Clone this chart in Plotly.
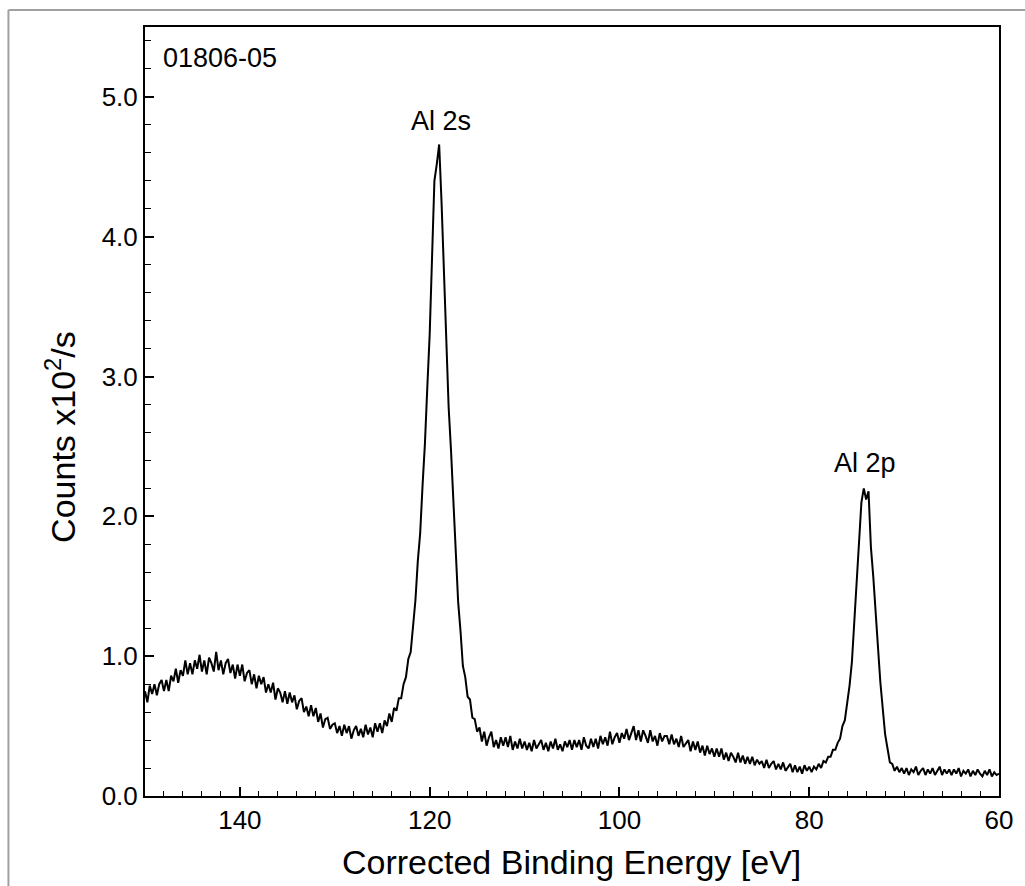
import plotly.graph_objects as go

# Energy grid (eV), 0.25 eV sampling from 150 down to 60
E_START = 150.0
E_STEP = 0.25
counts = [
    # 150.00 -> 145.25
    0.75, 0.67, 0.79, 0.73, 0.80, 0.72, 0.80, 0.83, 0.75, 0.83, 0.75, 0.86, 0.82, 0.91, 0.81, 0.90, 0.86, 0.97, 0.87, 0.95,
    # 145.00 -> 140.25
    0.87, 0.97, 0.91, 1.01, 0.89, 0.97, 0.87, 0.99, 0.95, 0.89, 1.03, 0.90, 0.97, 0.87, 0.95, 0.98, 0.88, 0.94, 0.84, 0.94,
    # 140.00 -> 135.25
    0.86, 0.94, 0.82, 0.88, 0.90, 0.80, 0.87, 0.77, 0.86, 0.80, 0.85, 0.74, 0.80, 0.74, 0.81, 0.69, 0.77, 0.74, 0.67, 0.75,
    # 135.00 -> 130.25
    0.66, 0.74, 0.67, 0.72, 0.62, 0.68, 0.70, 0.60, 0.64, 0.57, 0.65, 0.57, 0.63, 0.53, 0.59, 0.49, 0.55, 0.56, 0.48, 0.51,
    # 130.00 -> 125.25
    0.52, 0.45, 0.50, 0.43, 0.51, 0.45, 0.50, 0.41, 0.47, 0.50, 0.43, 0.48, 0.42, 0.51, 0.44, 0.49, 0.42, 0.52, 0.46, 0.52,
    # 125.00 -> 120.25
    0.45, 0.54, 0.50, 0.59, 0.53, 0.63, 0.61, 0.70, 0.70, 0.80, 0.85, 0.98, 1.03, 1.22, 1.40, 1.68, 1.88, 2.22, 2.52, 2.92,
    # 120.00 -> 115.25
    3.30, 3.85, 4.40, 4.52, 4.66, 4.25, 3.75, 3.25, 2.78, 2.47, 2.08, 1.77, 1.39, 1.18, 0.93, 0.85, 0.71, 0.69, 0.56, 0.55,
    # 115.00 -> 110.25
    0.46, 0.49, 0.39, 0.46, 0.36, 0.42, 0.46, 0.35, 0.40, 0.34, 0.42, 0.36, 0.42, 0.35, 0.43, 0.33, 0.39, 0.34, 0.41, 0.34,
    # 110.00 -> 105.25
    0.39, 0.33, 0.38, 0.32, 0.40, 0.34, 0.37, 0.40, 0.33, 0.38, 0.32, 0.39, 0.34, 0.41, 0.33, 0.37, 0.32, 0.39, 0.35, 0.40,
    # 105.00 -> 100.25
    0.33, 0.40, 0.35, 0.40, 0.33, 0.42, 0.36, 0.34, 0.41, 0.35, 0.41, 0.34, 0.43, 0.37, 0.42, 0.36, 0.46, 0.37, 0.42, 0.45,
    # 100.00 -> 95.25
    0.38, 0.45, 0.41, 0.48, 0.40, 0.45, 0.50, 0.40, 0.47, 0.39, 0.47, 0.43, 0.38, 0.47, 0.39, 0.43, 0.36, 0.45, 0.39, 0.43,
    # 95.00 -> 90.25
    0.43, 0.37, 0.44, 0.37, 0.41, 0.35, 0.43, 0.35, 0.38, 0.40, 0.32, 0.39, 0.33, 0.39, 0.31, 0.36, 0.29, 0.36, 0.30, 0.34,
    # 90.00 -> 85.25
    0.28, 0.34, 0.28, 0.34, 0.26, 0.31, 0.25, 0.31, 0.28, 0.24, 0.31, 0.24, 0.29, 0.23, 0.28, 0.23, 0.28, 0.22, 0.26, 0.23,
    # 85.00 -> 80.25
    0.25, 0.20, 0.26, 0.20, 0.23, 0.25, 0.19, 0.23, 0.19, 0.24, 0.18, 0.21, 0.23, 0.17, 0.22, 0.17, 0.21, 0.16, 0.22, 0.18,
    # 80.00 -> 75.25
    0.21, 0.17, 0.21, 0.19, 0.23, 0.20, 0.25, 0.24, 0.28, 0.28, 0.33, 0.33, 0.38, 0.41, 0.50, 0.54, 0.66, 0.79, 0.96, 1.26,
    # 75.00 -> 70.25
    1.57, 1.83, 2.10, 2.20, 2.12, 2.18, 1.78, 1.57, 1.28, 1.06, 0.81, 0.63, 0.44, 0.34, 0.24, 0.23, 0.18, 0.21, 0.17, 0.20,
    # 70.00 -> 65.25
    0.16, 0.20, 0.15, 0.19, 0.17, 0.21, 0.15, 0.18, 0.20, 0.15, 0.19, 0.16, 0.20, 0.15, 0.18, 0.21, 0.15, 0.19, 0.16, 0.19,
    # 65.00 -> 60.25
    0.15, 0.19, 0.16, 0.20, 0.14, 0.18, 0.16, 0.19, 0.14, 0.18, 0.15, 0.19, 0.16, 0.14, 0.18, 0.15, 0.19, 0.14, 0.17, 0.15,
    # 60.00
    0.16,
]
energy = [round(E_START - E_STEP * i, 2) for i in range(len(counts))]

x_tick_vals = [140, 120, 100, 80, 60]
y_tick_vals = [0, 1, 2, 3, 4, 5]
y_tick_text = ["0.0", "1.0", "2.0", "3.0", "4.0", "5.0"]

sample_id = "01806-05"
peak_labels = ["Al 2s", "Al 2p"]
peak_label_x = [118.8, 74.1]
peak_label_y = [4.83, 2.38]
x_title = "Corrected Binding Energy [eV]"
y_title = "Counts x10<sup>2</sup>/s"

FONT = "Liberation Sans, Arial, sans-serif"
TICK_SIZE = 26
LABEL_SIZE = 27
TITLE_SIZE = 34

fig = go.Figure()
fig.add_trace(go.Scatter(x=energy, y=counts, mode="lines",
                         line=dict(color="black", width=2), showlegend=False,
                         hoverinfo="x+y"))

for lab, lx, ly in zip(peak_labels, peak_label_x, peak_label_y):
    fig.add_annotation(x=lx, y=ly, text=lab, showarrow=False,
                       font=dict(size=LABEL_SIZE, color="black", family=FONT))

fig.add_annotation(x=148.3, y=5.28, text=sample_id, showarrow=False, xanchor="left",
                   font=dict(size=LABEL_SIZE, color="black", family=FONT))

L, R, T, B = 145, 17, 27, 90
W, H = 1025, 886
pw = W - L - R
ph = H - T - B
def px(x):
    return (x - L) / pw
def py(y):
    return (H - B - y) / ph

fig.add_annotation(xref="paper", yref="paper", x=px(576), y=py(862), text=x_title, showarrow=False,
                   xanchor="center", yanchor="middle", font=dict(size=TITLE_SIZE, color="black", family=FONT))
fig.add_annotation(xref="paper", yref="paper", x=px(59), y=py(437), text=y_title, showarrow=False,
                   textangle=-90, xanchor="center", yanchor="middle",
                   font=dict(size=TITLE_SIZE, color="black", family=FONT))

# outer grey frame (top and left edges visible)
fig.add_shape(type="line", xref="paper", yref="paper", x0=px(7), x1=px(1040), y0=py(10), y1=py(10),
              line=dict(color="#a0a0a0", width=2))
fig.add_shape(type="line", xref="paper", yref="paper", x0=px(7), x1=px(7), y0=py(10), y1=py(900),
              line=dict(color="#a0a0a0", width=2))

fig.update_layout(
    width=W, height=H, autosize=False,
    margin=dict(l=L, r=R, t=T, b=B),
    paper_bgcolor="white", plot_bgcolor="white",
    font=dict(family=FONT, color="black", size=TICK_SIZE),
    xaxis=dict(range=[150, 60], tickvals=x_tick_vals, ticks="inside", ticklen=9, tickwidth=1.5,
               tickcolor="black", showline=True, linecolor="black", linewidth=2, mirror=True,
               showgrid=False, zeroline=False, tickfont=dict(size=TICK_SIZE, family=FONT),
               minor=dict(dtick=2, tick0=60, ticks="inside", ticklen=5, tickwidth=1.2, tickcolor="black", showgrid=False)),
    yaxis=dict(range=[0, 5.5], tickvals=y_tick_vals, ticktext=y_tick_text, ticks="inside", ticklen=9, tickwidth=1.5,
               tickcolor="black", showline=True, linecolor="black", linewidth=2, mirror=True,
               showgrid=False, zeroline=False, tickfont=dict(size=TICK_SIZE, family=FONT),
               minor=dict(dtick=0.2, tick0=0, ticks="inside", ticklen=6, tickwidth=1.2, tickcolor="black", showgrid=False)),
)

post = (
    "document.documentElement.style.overflow='hidden';"
    "document.body.style.margin='0';document.body.style.overflow='hidden';"
    "var gd=document.getElementById('{plot_id}');"
    "Plotly.relayout(gd,{width:1025,height:886});"
)
fig.write_html("out.html", config={"displayModeBar": False, "responsive": False}, post_script=post)
